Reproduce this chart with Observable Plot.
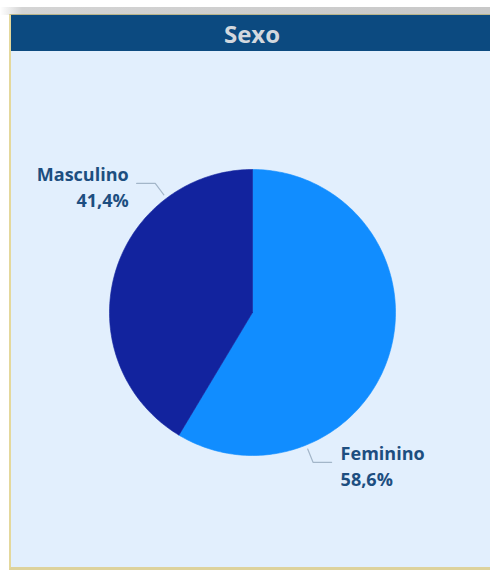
<!DOCTYPE html>
<html><head><meta charset="utf-8">
<script src="https://cdn.jsdelivr.net/npm/d3@7"></script>
<script src="https://cdn.jsdelivr.net/npm/@observablehq/plot@0.6"></script>
<style>
body{margin:0;width:490px;height:572px;background:#fff;overflow:hidden;font-family:"Open Sans",sans-serif;position:relative;}
#shadow{position:absolute;left:0;top:7px;width:490px;height:8px;background:linear-gradient(to right,#fff 0px,#d4d4d4 22px,#c8c8c8 100%);}
#panel{position:absolute;left:9px;top:14px;width:482px;height:552px;background:#e2effd;border-left:2px solid #e4d89c;border-top:1px solid #b9b48a;border-bottom:3px solid #ddd29c;}
#title{height:36px;background:#0c4a80;color:#d3d8de;font-weight:700;font-size:24px;text-align:center;line-height:37px;}
#chart svg{display:block;}
</style></head>
<body>
<div id="shadow"></div>
<div id="panel">
  <div id="title">Sexo</div>
  <div id="chart"></div>
</div>
<script>
const categories = ["Feminino", "Masculino"];
const values = [58.6, 41.4];
const colors = ["#118dff", "#12239e"];

const data = categories.map((c, i) => ({cat: c, value: values[i]}));
const arcs = d3.pie().sort(null).value(d => d.value)(data);

// slice outlines (unit circle, angle 0 at top, clockwise)
const slicePts = arcs.flatMap(p => {
  const cat = p.data.cat;
  const pts = [{cat, x: 0, y: 0}];
  const n = Math.ceil((p.endAngle - p.startAngle) / (Math.PI / 180));
  for (let i = 0; i <= n; i++) {
    const a = p.startAngle + (p.endAngle - p.startAngle) * i / n;
    pts.push({cat, x: Math.sin(a), y: Math.cos(a)});
  }
  pts.push({cat, x: 0, y: 0});
  return pts;
});

// leader lines: where each label's leader touches the pie
const leaderAngle = {"Feminino": 158, "Masculino": 323};
const leaderPts = [];
const labels = [];
data.forEach(d => {
  const a = leaderAngle[d.cat] * Math.PI / 180;
  const s = Math.sin(a), c = Math.cos(a);
  const right = s > 0;
  const ex = 1.13 * s, ey = 1.13 * c;
  const endX = ex + (right ? 0.13 : -0.13);
  leaderPts.push({cat: d.cat, x: 1.03 * s, y: 1.03 * c});
  leaderPts.push({cat: d.cat, x: ex, y: ey});
  leaderPts.push({cat: d.cat, x: endX, y: ey});
  labels.push({cat: d.cat, x: endX, y: ey, right,
    text: d.cat + "\n" + d.value.toFixed(1).replace(".", ",") + "%"});
});

const cx = 241, cy = 261, r = 143;
const chart = Plot.plot({
  width: 479,
  height: 516,
  margin: 0,
  x: {domain: [-1, 1], range: [cx - r, cx + r], axis: null},
  y: {domain: [-1, 1], range: [cy + r, cy - r], axis: null},
  color: {domain: categories, range: colors},
  style: {background: "transparent", overflow: "visible"},
  marks: [
    Plot.line(slicePts, {x: "x", y: "y", z: "cat", fill: "cat", stroke: "cat", strokeWidth: 0.6, curve: "linear"}),
    Plot.line(leaderPts, {x: "x", y: "y", z: "cat", stroke: "#a3b6c9", strokeWidth: 1.2}),
    Plot.text(labels.filter(d => d.right), {x: "x", y: "y", text: "text", textAnchor: "start", lineAnchor: "middle", dx: 9, dy: 2,
      fontSize: 18, fontWeight: 700, lineHeight: 1.45, fill: "#1d4e80", fontFamily: "Open Sans"}),
    Plot.text(labels.filter(d => !d.right), {x: "x", y: "y", text: "text", textAnchor: "end", lineAnchor: "middle", dx: -8, dy: 2,
      fontSize: 18, fontWeight: 700, lineHeight: 1.45, fill: "#1d4e80", fontFamily: "Open Sans"})
  ]
});
document.getElementById("chart").appendChild(chart);
</script>
</body></html>
